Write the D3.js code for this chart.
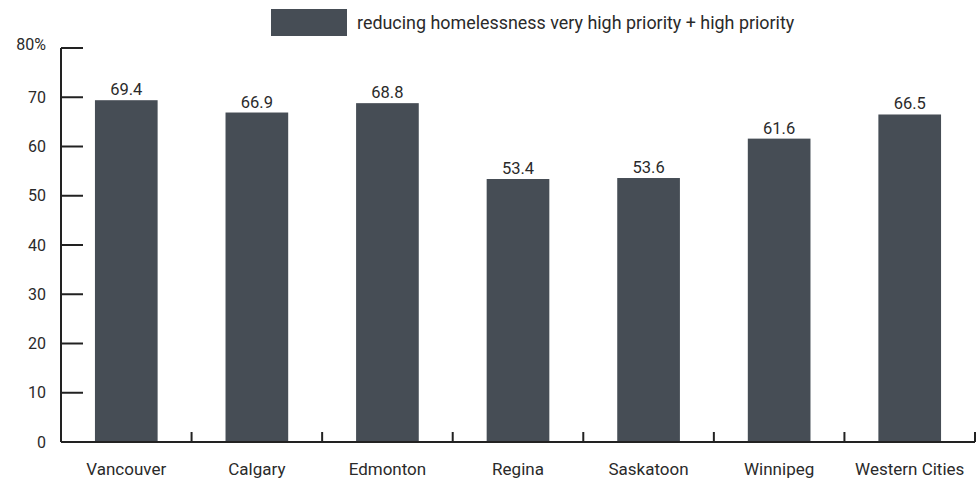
<!DOCTYPE html>
<html>
<head>
<meta charset="utf-8">
<script src="https://cdn.jsdelivr.net/npm/d3@7"></script>
<style>
  body { margin: 0; background: #fff; }
  text { font-family: Roboto, "Liberation Sans", sans-serif; fill: #2a2a2a; }
</style>
</head>
<body>
<div id="chart"></div>
<script>
var cities = ["Vancouver", "Calgary", "Edmonton", "Regina", "Saskatoon", "Winnipeg", "Western Cities"];
var priority = [69.4, 66.9, 68.8, 53.4, 53.6, 61.6, 66.5];
var yTicks = [0, 10, 20, 30, 40, 50, 60, 70, 80];
var seriesName = "reducing homelessness very high priority + high priority";

var width = 976, height = 480;
var barColor = "#464d55";
var axisColor = "#222";

var svg = d3.select("#chart").append("svg")
    .attr("width", width)
    .attr("height", height);

var x = d3.scaleBand()
    .domain(cities)
    .range([61, 975])
    .paddingInner(0.52)
    .paddingOuter(0.26);

var y = d3.scaleLinear()
    .domain([0, 80])
    .range([442, 48]);

// bars
svg.append("g").selectAll("rect")
    .data(priority)
    .enter().append("rect")
    .attr("x", function(d, i) { return x(cities[i]); })
    .attr("y", function(d) { return y(d); })
    .attr("width", x.bandwidth())
    .attr("height", function(d) { return y(0) - y(d); })
    .attr("fill", barColor);

// value labels
svg.append("g").selectAll("text")
    .data(priority)
    .enter().append("text")
    .attr("x", function(d, i) { return x(cities[i]) + x.bandwidth() / 2; })
    .attr("y", function(d) { return y(d) - 5; })
    .attr("text-anchor", "middle")
    .style("font-size", "16.5px")
    .text(function(d) { return d.toFixed(1); });

// y axis
var yAxis = svg.append("g").attr("transform", "translate(61,0)");
yAxis.append("line")
    .attr("x1", 0).attr("x2", 0)
    .attr("y1", y(80)).attr("y2", y(0))
    .attr("stroke", axisColor).attr("stroke-width", 2);
yAxis.selectAll("line.tick")
    .data(yTicks)
    .enter().append("line")
    .attr("class", "tick")
    .attr("x1", 0).attr("x2", 22)
    .attr("y1", function(d) { return y(d); })
    .attr("y2", function(d) { return y(d); })
    .attr("stroke", axisColor).attr("stroke-width", 2);
yAxis.selectAll("text")
    .data(yTicks)
    .enter().append("text")
    .attr("x", -15)
    .attr("y", function(d) { return d == 80 ? y(d) - 4 : y(d); })
    .attr("dy", "0.35em")
    .attr("text-anchor", "end")
    .style("font-size", "16px")
    .text(function(d) { return d == 80 ? "80%" : d; });

// x axis
var xAxis = svg.append("g").attr("transform", "translate(0," + y(0) + ")");
xAxis.append("line")
    .attr("x1", 61).attr("x2", 975)
    .attr("y1", 0).attr("y2", 0)
    .attr("stroke", axisColor).attr("stroke-width", 2);
var bounds = cities.map(function(c, i) { return 61 + (i + 1) * x.step(); });
xAxis.selectAll("line.tick")
    .data(bounds)
    .enter().append("line")
    .attr("class", "tick")
    .attr("x1", function(d) { return d; })
    .attr("x2", function(d) { return d; })
    .attr("y1", 0).attr("y2", -10)
    .attr("stroke", axisColor).attr("stroke-width", 2);
xAxis.selectAll("text")
    .data(cities)
    .enter().append("text")
    .attr("x", function(d) { return x(d) + x.bandwidth() / 2; })
    .attr("y", 33)
    .attr("text-anchor", "middle")
    .style("font-size", "17px")
    .text(function(d) { return d; });

// legend
var legend = svg.append("g");
legend.append("rect")
    .attr("x", 271).attr("y", 9)
    .attr("width", 76).attr("height", 27)
    .attr("fill", barColor);
legend.append("text")
    .attr("x", 357).attr("y", 29)
    .style("font-size", "17.9px")
    .text(seriesName);
</script>
</body>
</html>
